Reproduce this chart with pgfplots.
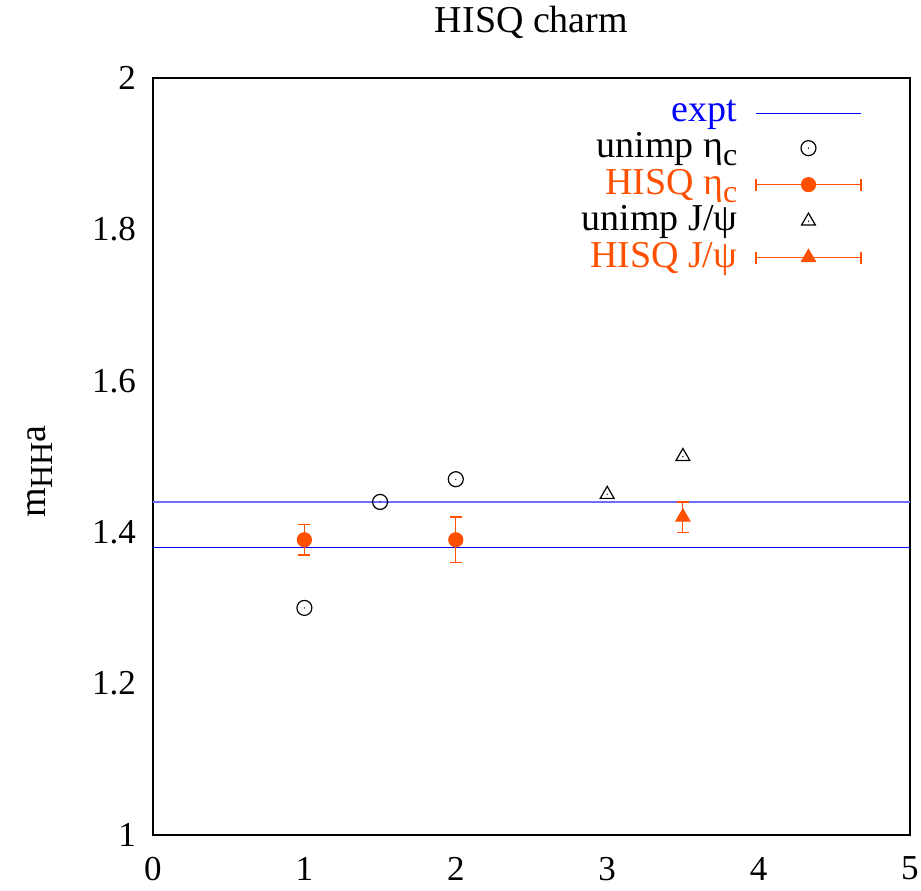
\documentclass[border=0pt]{standalone}
\usepackage{fontspec}
\setmainfont{Liberation Serif}
\usepackage{pgfplots}
\pgfplotsset{compat=1.18}
\definecolor{hisq}{RGB}{255,80,0}
\definecolor{exptA}{RGB}{0,0,255}
\definecolor{exptB}{RGB}{110,110,255}
\newcommand\sub[1]{\raisebox{-0.45ex}{\fontsize{16}{16}\selectfont #1}}
\pgfdeclareplotmark{odot}{%
  \pgfpathcircle{\pgfpointorigin}{\pgfplotmarksize}\pgfusepathqstroke
  \pgfpathcircle{\pgfpointorigin}{0.35pt}\pgfusepathqfill}
\pgfdeclareplotmark{tridot}{%
  \pgfpathmoveto{\pgfqpointpolar{90}{\pgfplotmarksize}}%
  \pgfpathlineto{\pgfqpointpolar{210}{\pgfplotmarksize}}%
  \pgfpathlineto{\pgfqpointpolar{330}{\pgfplotmarksize}}%
  \pgfpathclose\pgfusepathqstroke
  \pgfpathcircle{\pgfpointorigin}{0.35pt}\pgfusepathqfill}
\begin{document}
\fontsize{19}{22}\selectfont
\begin{tikzpicture}
\begin{axis}[
  scale only axis,
  width=378.5pt, height=378.5pt,
  xmin=0, xmax=5, ymin=1, ymax=2,
  xtick={0,1,2,3,4,5},
  ytick={1,1.2,1.4,1.6,1.8,2},
  yticklabels={1,1.2,1.4,1.6,1.8,2},
  major tick length=0pt,
  axis line style={line width=0.8pt},
  tick label style={font=\fontsize{17.5}{20}\selectfont},
  /pgf/number format/assume math mode=true,
  yticklabel style={xshift=-2pt},
  xticklabel style={yshift=-4.5pt},
  title={HISQ charm},
  title style={font=\fontsize{19}{22}\selectfont, at={(axis description cs:0.5,1)}, anchor=south, yshift=7pt},
  ylabel={m\sub{HH}a},
  ylabel style={font=\fontsize{19}{22}\selectfont, at={(axis description cs:-0.1493,0.48)}, anchor=center},
  legend style={draw=none, fill=none, at={(axis description cs:0.9445,0.982)}, anchor=north east,
    font=\fontsize{19}{22}\selectfont, row sep=-1.2pt, column sep=7pt},
  legend cell align=right,
  legend plot pos=right,
  clip=true,
]
\addplot[exptA, line width=0.8pt, mark=none,
  legend image code/.code={\draw[exptA, line width=0.6pt] (0pt,0pt) -- (52.5pt,0pt);}]
  coordinates {(0,1.38) (5,1.38)};
\addlegendentry{\textcolor{blue}{expt}}
\addplot[exptB, line width=0.8pt, mark=none, forget plot]
  coordinates {(0,1.44) (5,1.44)};
\addplot[only marks, mark=odot, mark size=3.75pt, black, line width=0.6pt,
  legend image code/.code={\draw[black, line width=0.6pt] plot[mark=odot, mark size=3.75pt] coordinates {(26.25pt,0pt)};}]
  coordinates {(1,1.30) (1.5,1.44) (2,1.47)};
\addlegendentry{unimp η\sub{c}}
\addplot[only marks, mark=*, mark size=3.5pt, hisq, line width=0.6pt,
  legend image code/.code={
    \draw[hisq, line width=0.6pt] (0pt,0pt) -- (52.5pt,0pt);
    \draw[hisq, line width=0.6pt] (0pt,-3pt) -- (0pt,3pt);
    \draw[hisq, line width=0.6pt] (52.5pt,-3pt) -- (52.5pt,3pt);
    \draw[hisq] plot[mark=*, mark size=3.5pt] coordinates {(26.25pt,0pt)};},
  error bars/.cd, y dir=both, y explicit,
  error bar style={hisq, line width=0.6pt},
  error mark options={rotate=90, mark size=3pt, hisq, line width=0.6pt},
  ]
  coordinates {(1,1.39) +- (0,0.02) (2,1.39) +- (0,0.03)};
\addlegendentry{\textcolor{hisq}{HISQ η\sub{c}}}
\addplot[only marks, mark=tridot, mark size=4pt, black, line width=0.6pt,
  legend image code/.code={\draw[black, line width=0.6pt] plot[mark=tridot, mark size=4pt] coordinates {(26.25pt,0pt)};}]
  coordinates {(3,1.45) (3.5,1.50)};
\addlegendentry{unimp J/ψ}
\addplot[only marks, mark=triangle*, mark size=4pt, hisq, line width=0.6pt,
  legend image code/.code={
    \draw[hisq, line width=0.6pt] (0pt,0pt) -- (52.5pt,0pt);
    \draw[hisq, line width=0.6pt] (0pt,-3pt) -- (0pt,3pt);
    \draw[hisq, line width=0.6pt] (52.5pt,-3pt) -- (52.5pt,3pt);
    \draw[hisq] plot[mark=triangle*, mark size=4pt] coordinates {(26.25pt,0pt)};},
  error bars/.cd, y dir=both, y explicit,
  error bar style={hisq, line width=0.6pt},
  error mark options={rotate=90, mark size=3pt, hisq, line width=0.6pt},
  ]
  coordinates {(3.5,1.42) +- (0,0.02)};
\addlegendentry{\textcolor{hisq}{HISQ J/ψ}}
\end{axis}
\pgfresetboundingbox
\path[use as bounding box] (-76.5pt,-27.5pt) rectangle (384pt,417.5pt);
\end{tikzpicture}
\end{document}
